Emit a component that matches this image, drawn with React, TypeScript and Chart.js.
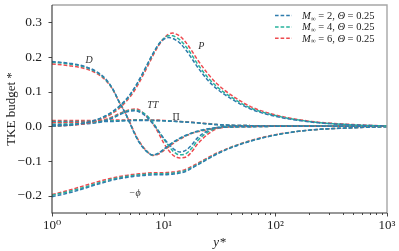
import React, { useEffect, useRef } from 'react';
import { Chart, registerables } from 'chart.js';
Chart.register(...registerables);

const Y_PLUS = [1, 1.5, 2, 2.5, 3, 3.5, 4, 4.5, 5, 5.5, 6, 7, 8, 9, 10, 11, 12, 13, 14, 16, 18, 20, 25, 30, 40, 60, 100, 200, 500, 1000];

const P_M2 = [0.001, 0.004, 0.01, 0.019, 0.03, 0.043, 0.058, 0.074, 0.092, 0.112, 0.133, 0.174, 0.21, 0.236, 0.251, 0.256, 0.254, 0.248, 0.24, 0.218, 0.194, 0.172, 0.132, 0.108, 0.08, 0.05, 0.029, 0.013, 0.004, 0.001];
const P_M4 = [0.001, 0.004, 0.01, 0.018, 0.029, 0.041, 0.056, 0.072, 0.09, 0.11, 0.131, 0.172, 0.208, 0.236, 0.253, 0.261, 0.261, 0.256, 0.249, 0.228, 0.204, 0.181, 0.14, 0.114, 0.085, 0.053, 0.031, 0.014, 0.004, 0.001];
const P_M6 = [0.0, 0.003, 0.008, 0.016, 0.026, 0.038, 0.052, 0.068, 0.085, 0.104, 0.125, 0.166, 0.203, 0.233, 0.253, 0.265, 0.269, 0.266, 0.26, 0.24, 0.216, 0.193, 0.151, 0.123, 0.091, 0.057, 0.033, 0.015, 0.005, 0.001];

const D_M2 = [0.187, 0.181, 0.172, 0.158, 0.138, 0.108, 0.07, 0.04, 0.008, -0.022, -0.045, -0.072, -0.083, -0.077, -0.066, -0.056, -0.047, -0.04, -0.034, -0.025, -0.019, -0.014, -0.007, -0.004, -0.002, -0.001, 0, 0, 0, 0];
const D_M4 = [0.185, 0.179, 0.17, 0.156, 0.136, 0.107, 0.07, 0.04, 0.008, -0.021, -0.044, -0.071, -0.083, -0.078, -0.067, -0.057, -0.048, -0.041, -0.035, -0.026, -0.019, -0.015, -0.008, -0.004, -0.002, -0.001, 0, 0, 0, 0];
const D_M6 = [0.18, 0.174, 0.166, 0.153, 0.134, 0.106, 0.07, 0.041, 0.01, -0.019, -0.042, -0.07, -0.084, -0.08, -0.07, -0.06, -0.051, -0.043, -0.037, -0.027, -0.02, -0.016, -0.009, -0.005, -0.002, -0.001, 0, 0, 0, 0];

const TT_M2 = [0.004, 0.005, 0.007, 0.01, 0.016, 0.024, 0.033, 0.04, 0.044, 0.045, 0.042, 0.028, 0.008, -0.014, -0.034, -0.05, -0.063, -0.071, -0.074, -0.068, -0.052, -0.034, -0.012, -0.003, 0.002, 0.002, 0.001, 0.001, 0, 0];
const TT_M4 = [0.006, 0.007, 0.009, 0.012, 0.018, 0.026, 0.035, 0.042, 0.046, 0.047, 0.045, 0.032, 0.011, -0.013, -0.036, -0.055, -0.07, -0.079, -0.082, -0.078, -0.062, -0.042, -0.016, -0.005, 0.001, 0.002, 0.001, 0.001, 0, 0];
const TT_M6 = [0.01, 0.011, 0.012, 0.015, 0.02, 0.028, 0.037, 0.044, 0.048, 0.05, 0.048, 0.03, 0.008, -0.02, -0.048, -0.068, -0.082, -0.089, -0.091, -0.088, -0.072, -0.052, -0.022, -0.007, 0.0, 0.002, 0.001, 0.001, 0, 0];

const PI_M2 = [0.012, 0.012, 0.012, 0.013, 0.014, 0.014, 0.015, 0.016, 0.016, 0.017, 0.017, 0.017, 0.017, 0.016, 0.016, 0.015, 0.015, 0.014, 0.013, 0.012, 0.011, 0.01, 0.007, 0.005, 0.003, 0.002, 0.001, 0, 0, 0];
const PI_M4 = [0.014, 0.014, 0.014, 0.015, 0.015, 0.016, 0.016, 0.017, 0.017, 0.018, 0.018, 0.018, 0.017, 0.017, 0.016, 0.016, 0.015, 0.014, 0.014, 0.012, 0.011, 0.01, 0.007, 0.005, 0.003, 0.002, 0.001, 0, 0, 0];
const PI_M6 = [0.017, 0.017, 0.017, 0.017, 0.017, 0.018, 0.018, 0.018, 0.019, 0.019, 0.019, 0.019, 0.018, 0.018, 0.017, 0.016, 0.016, 0.015, 0.014, 0.013, 0.012, 0.01, 0.008, 0.005, 0.003, 0.002, 0.001, 0, 0, 0];

const PHI_M2 = [-0.203, -0.19, -0.178, -0.168, -0.161, -0.155, -0.151, -0.148, -0.146, -0.144, -0.143, -0.141, -0.14, -0.14, -0.14, -0.139, -0.138, -0.137, -0.135, -0.129, -0.12, -0.112, -0.094, -0.08, -0.062, -0.043, -0.025, -0.011, -0.004, -0.001];
const PHI_M4 = [-0.199, -0.186, -0.175, -0.165, -0.158, -0.152, -0.148, -0.145, -0.143, -0.141, -0.14, -0.138, -0.137, -0.137, -0.137, -0.136, -0.135, -0.134, -0.132, -0.126, -0.118, -0.11, -0.092, -0.079, -0.061, -0.042, -0.025, -0.011, -0.004, -0.001];
const PHI_M6 = [-0.197, -0.182, -0.17, -0.161, -0.154, -0.149, -0.145, -0.142, -0.14, -0.138, -0.137, -0.135, -0.134, -0.134, -0.134, -0.133, -0.132, -0.131, -0.129, -0.123, -0.115, -0.107, -0.09, -0.077, -0.06, -0.041, -0.024, -0.011, -0.004, -0.001];

const MACH = ['2', '4', '6'];
const THETA = '0.25';
const COLORS = ['#2f7cad', '#27b29c', '#ee4a4f'];
const QUANTITIES = [
  [P_M2, P_M4, P_M6],
  [D_M2, D_M4, D_M6],
  [TT_M2, TT_M4, TT_M6],
  [PI_M2, PI_M4, PI_M6],
  [PHI_M2, PHI_M4, PHI_M6],
];
const Y_TICKS = [-0.2, -0.1, 0, 0.1, 0.2, 0.3];
const X_TICKS = [1, 10, 100, 1000];
const SUP = ['⁰', '¹', '²', '³'];
const CURVE_LABELS = [
  { text: 'D', x: 2.15, y: 0.19 },
  { text: 'P', x: 21.7, y: 0.23 },
  { text: 'TT', x: 8.0, y: 0.061 },
  { text: 'Π', x: 12.9, y: 0.025 },
  { text: '−ϕ', x: 5.5, y: -0.192 },
];

const SERIF = '"Liberation Serif", "DejaVu Serif", serif';

const overlay = {
  id: 'overlay',
  afterDatasetsDraw(chart: any) {
    const { ctx, chartArea: a, scales } = chart;
    const xs = scales.x, ys = scales.y;
    ctx.save();
    // frame
    ctx.lineWidth = 1.4;
    ctx.strokeStyle = '#a6a6a6';
    ctx.beginPath();
    ctx.moveTo(a.left, a.top); ctx.lineTo(a.right, a.top); ctx.lineTo(a.right, a.bottom);
    ctx.stroke();
    ctx.lineWidth = 1.1;
    ctx.strokeStyle = '#333';
    ctx.beginPath();
    ctx.moveTo(a.left, a.top); ctx.lineTo(a.left, a.bottom); ctx.lineTo(a.right, a.bottom);
    ctx.stroke();
    // ticks
    ctx.lineWidth = 0.9;
    ctx.beginPath();
    Y_TICKS.forEach((v) => {
      const p = Math.round(ys.getPixelForValue(v)) + 0.5;
      ctx.moveTo(a.left - 3.5, p); ctx.lineTo(a.left, p);
    });
    for (let d = 0; d < 3; d++) {
      for (let k = 1; k <= 9; k++) {
        const v = k * Math.pow(10, d);
        const p = Math.round(xs.getPixelForValue(v)) + 0.5;
        const len = k === 1 ? 3.5 : 2;
        ctx.moveTo(p, a.bottom); ctx.lineTo(p, a.bottom + len);
      }
    }
    const pe = Math.round(xs.getPixelForValue(1000)) + 0.5;
    ctx.moveTo(pe, a.bottom); ctx.lineTo(pe, a.bottom + 3.5);
    ctx.stroke();

    // curve labels
    ctx.fillStyle = '#333';
    ctx.textAlign = 'center';
    ctx.textBaseline = 'middle';
    CURVE_LABELS.forEach((l) => {
      ctx.font = (l.text === 'Π' ? '' : 'italic ') + '10px ' + SERIF;
      ctx.fillText(l.text, xs.getPixelForValue(l.x), ys.getPixelForValue(l.y));
    });

    // legend
    ctx.textAlign = 'left';
    ctx.textBaseline = 'alphabetic';
    MACH.forEach((m, i) => {
      const yy = a.top + 10.5 + i * 11.4;
      ctx.strokeStyle = COLORS[i];
      ctx.lineWidth = 1.5;
      ctx.setLineDash([3.6, 2]);
      ctx.beginPath();
      ctx.moveTo(a.right - 112, yy); ctx.lineTo(a.right - 95, yy);
      ctx.stroke();
      ctx.setLineDash([]);
      ctx.fillStyle = '#222';
      let x = a.right - 85;
      const base = yy + 3.3;
      const segs = [
        { t: 'M', f: 'italic 10.5px ' + SERIF, dy: 0 },
        { t: '∞', f: '7px ' + SERIF, dy: 1.8 },
        { t: ' = ' + m + ', ', f: '10.5px ' + SERIF, dy: 0 },
        { t: 'Θ', f: 'italic 10.5px ' + SERIF, dy: 0 },
        { t: ' = ' + THETA, f: '10.5px ' + SERIF, dy: 0 },
      ];
      segs.forEach((s) => {
        ctx.font = s.f;
        ctx.fillText(s.t, x, base + s.dy);
        x += ctx.measureText(s.t).width;
      });
    });
    ctx.restore();
  },
};

export default function App() {
  const ref = useRef<HTMLCanvasElement>(null);
  useEffect(() => {
    document.body.style.margin = '0';
    const datasets: any[] = [];
    QUANTITIES.forEach((group) => {
      group.forEach((arr, i) => {
        datasets.push({
          label: 'M∞ = ' + MACH[i] + ', Θ = ' + THETA,
          data: Y_PLUS.map((x, j) => ({ x, y: arr[j] })),
          borderColor: COLORS[i],
          backgroundColor: COLORS[i],
          borderWidth: 1.5,
          borderDash: [3.8, 2],
          pointRadius: 0,
          fill: false,
          cubicInterpolationMode: 'monotone',
        });
      });
    });
    const chart = new Chart(ref.current as HTMLCanvasElement, {
      type: 'line',
      data: { datasets },
      plugins: [overlay],
      options: {
        responsive: false,
        maintainAspectRatio: false,
        animation: false,
        layout: { padding: { top: 5, right: 12, left: 0, bottom: 0 } },
        plugins: { legend: { display: false }, tooltip: { enabled: false } },
        scales: {
          x: {
            type: 'logarithmic',
            min: 1,
            max: 1000,
            afterBuildTicks: (s: any) => { s.ticks = X_TICKS.map((v) => ({ value: v, major: true })); },
            afterFit: (s: any) => { s.height = 38; s.paddingLeft = 0; s.paddingRight = 0; s.paddingTop = 0; s.paddingBottom = 0; },
            grid: { display: true, drawOnChartArea: false, drawTicks: true, tickLength: 4, color: 'rgba(0,0,0,0)' },
            border: { display: false },
            ticks: {
              autoSkip: false,
              maxRotation: 0,
              padding: 1,
              color: '#222',
              font: { family: SERIF, size: 13 },
              callback: (v: any) => {
                const i = X_TICKS.indexOf(Number(v));
                return i >= 0 ? '10' + SUP[i] : '';
              },
            },
            title: {
              display: true,
              text: 'y*',
              color: '#222',
              font: { family: SERIF, size: 13, style: 'italic' },
              padding: { top: 0, bottom: 1 },
            },
          },
          y: {
            min: -0.25,
            max: 0.35,
            afterBuildTicks: (s: any) => { s.ticks = Y_TICKS.map((v) => ({ value: v })); },
            afterFit: (s: any) => { s.width = 52; s.paddingLeft = 0; s.paddingRight = 0; s.paddingTop = 0; s.paddingBottom = 0; },
            grid: { display: true, drawOnChartArea: false, drawTicks: true, tickLength: 4, color: 'rgba(0,0,0,0)' },
            border: { display: false },
            ticks: {
              padding: 6,
              color: '#222',
              font: { family: SERIF, size: 13.5 },
              callback: (v: any) => {
                const n = Number(v);
                const s = Math.abs(n).toFixed(1);
                return (n < -1e-9 ? '−' : '') + s;
              },
            },
            title: {
              display: true,
              text: 'TKE budget *',
              color: '#222',
              font: { family: SERIF, size: 13 },
              padding: { top: 4, bottom: 3 },
            },
          },
        },
      },
    });
    return () => chart.destroy();
  }, []);
  return (
    <div style={{ position: 'fixed', left: 0, top: 0, width: 399, height: 251 }}>
      <canvas ref={ref} width={399} height={251} style={{ width: 399, height: 251 }} />
    </div>
  );
}
